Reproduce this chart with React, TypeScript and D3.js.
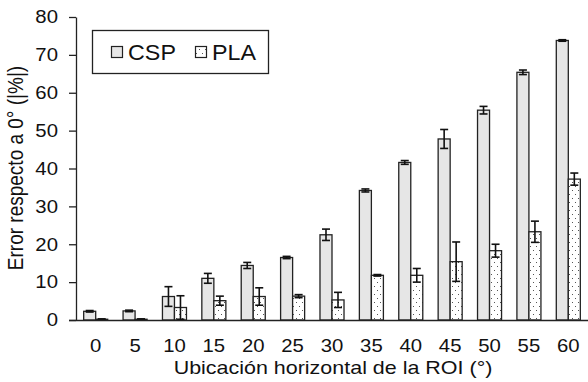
import * as d3 from "d3";
import { useEffect, useRef } from "react";

const angles = ["0", "5", "10", "15", "20", "25", "30", "35", "40", "45", "50", "55", "60"];
const cspValues = [2.3, 2.4, 6.2, 11.0, 14.4, 16.5, 22.5, 34.2, 41.6, 47.8, 55.4, 65.4, 73.8];
const cspErrors = [0.2, 0.2, 2.6, 1.3, 0.8, 0.3, 1.5, 0.4, 0.5, 2.5, 1.0, 0.6, 0.2];
const plaValues = [0.2, 0.2, 3.3, 5.1, 6.2, 6.3, 5.3, 11.8, 11.8, 15.4, 18.3, 23.3, 37.2];
const plaErrors = [0.1, 0.1, 3.1, 1.2, 2.3, 0.4, 2.0, 0.2, 1.8, 5.2, 1.7, 2.8, 1.6];
const yTicks = [0, 10, 20, 30, 40, 50, 60, 70, 80];
const seriesNames = ["CSP", "PLA"];

const W = 588;
const H = 382;
const font = "'Liberation Sans', Arial, sans-serif";
// the source picture looks stretched sideways a little
const SX = 1.13;

export default function App() {
  const ref = useRef<SVGSVGElement | null>(null);

  useEffect(() => {
    if (!ref.current) return;
    const svg = d3.select(ref.current);
    svg.selectAll("*").remove();

    const margin = { top: 17, right: 0, bottom: 62, left: 76 };
    const width = W - margin.left - margin.right;
    const height = H - margin.top - margin.bottom;

    const defs = svg.append("defs");
    const pat = defs
      .append("pattern")
      .attr("id", "dots")
      .attr("patternUnits", "userSpaceOnUse")
      .attr("width", 6)
      .attr("height", 8);
    pat.append("rect").attr("width", 6).attr("height", 8).attr("fill", "#fff");
    pat.append("rect").attr("x", 1).attr("y", 1).attr("width", 1).attr("height", 1).attr("fill", "#555");
    pat.append("rect").attr("x", 4).attr("y", 5).attr("width", 1).attr("height", 1).attr("fill", "#555");

    const g = svg.append("g").attr("transform", `translate(${margin.left},${margin.top})`);

    const x = d3.scaleBand().domain(angles).range([0, width]).paddingInner(0.39).paddingOuter(0.195);
    const x1 = d3.scaleBand().domain(seriesNames).range([0, x.bandwidth()]);
    const y = d3.scaleLinear().domain([0, 80]).range([height, 0]);

    const series = [
      { name: "CSP", values: cspValues, errors: cspErrors, fill: "#e6e6e6" },
      { name: "PLA", values: plaValues, errors: plaErrors, fill: "url(#dots)" },
    ];

    series.forEach((s) => {
      const grp = g.append("g");
      grp
        .selectAll("rect")
        .data(angles)
        .enter()
        .append("rect")
        .attr("x", (d) => x(d)! + x1(s.name)!)
        .attr("y", (d, i) => y(s.values[i]))
        .attr("width", x1.bandwidth())
        .attr("height", (d, i) => height - y(s.values[i]))
        .attr("fill", s.fill)
        .attr("stroke", "#222")
        .attr("stroke-width", 1.3);

      const eg = g.append("g").attr("stroke", "#111").attr("stroke-width", 1.6);
      angles.forEach((d, i) => {
        const cx = x(d)! + x1(s.name)! + x1.bandwidth() / 2;
        const lo = Math.max(0, s.values[i] - s.errors[i]);
        const hi = s.values[i] + s.errors[i];
        eg.append("line").attr("x1", cx).attr("x2", cx).attr("y1", y(lo)).attr("y2", y(hi));
        eg.append("line").attr("x1", cx - 4).attr("x2", cx + 4).attr("y1", y(lo)).attr("y2", y(lo));
        eg.append("line").attr("x1", cx - 4).attr("x2", cx + 4).attr("y1", y(hi)).attr("y2", y(hi));
      });
    });

    // y axis
    const yAxis = g.append("g").call(d3.axisLeft(y).tickValues(yTicks).tickSize(7).tickSizeOuter(0).tickPadding(9));
    yAxis.select(".domain").attr("stroke", "#222").attr("stroke-width", 1.3);
    yAxis.selectAll(".tick line").attr("stroke", "#222").attr("stroke-width", 1.3);
    yAxis
      .selectAll(".tick text")
      .attr("font-family", font)
      .attr("font-size", 18)
      .attr("fill", "#111")
      .attr("transform", `scale(${SX},1)`);

    // x axis
    const xAxis = g
      .append("g")
      .attr("transform", `translate(0,${height})`)
      .call(d3.axisBottom(x).tickSize(0).tickSizeOuter(0).tickPadding(19));
    xAxis.select(".domain").attr("stroke", "#222").attr("stroke-width", 1.3).attr("d", `M-7,0.5H${width}`);
    xAxis
      .selectAll(".tick text")
      .attr("font-family", font)
      .attr("font-size", 18)
      .attr("fill", "#111")
      .attr("transform", `scale(${SX},1)`);

    svg
      .append("text")
      .attr("transform", `translate(333,374) scale(${SX},1)`)
      .attr("text-anchor", "middle")
      .attr("font-family", font)
      .attr("font-size", 19)
      .attr("fill", "#111")
      .text("Ubicación horizontal de la ROI (°)");

    svg
      .append("text")
      .attr("transform", `translate(23,168) scale(${SX},1) rotate(-90)`)
      .attr("text-anchor", "middle")
      .attr("font-family", font)
      .attr("font-size", 19)
      .attr("fill", "#111")
      .text("Error respecto a 0° (|%|)");

    // legend
    const lg = svg.append("g");
    lg.append("rect").attr("x", 92.5).attr("y", 30.5).attr("width", 176).attr("height", 43).attr("fill", "#fff").attr("stroke", "#222").attr("stroke-width", 1.3);
    const items = [
      { name: "CSP", fill: "#e6e6e6", x: 111 },
      { name: "PLA", fill: "url(#dots)", x: 195 },
    ];
    items.forEach((it) => {
      lg.append("rect").attr("x", it.x + 0.5).attr("y", 46.5).attr("width", 11).attr("height", 11).attr("fill", it.fill).attr("stroke", "#222").attr("stroke-width", 1.2);
      lg.append("text")
        .attr("transform", `translate(${it.x + 17},60) scale(1.06,1)`)
        .attr("font-family", font)
        .attr("font-size", 22)
        .attr("fill", "#111")
        .text(it.name);
    });
  }, []);

  return (
    <svg
      ref={ref}
      width={W}
      height={H}
      style={{ position: "absolute", left: 0, top: 0, background: "#fff" }}
    />
  );
}
